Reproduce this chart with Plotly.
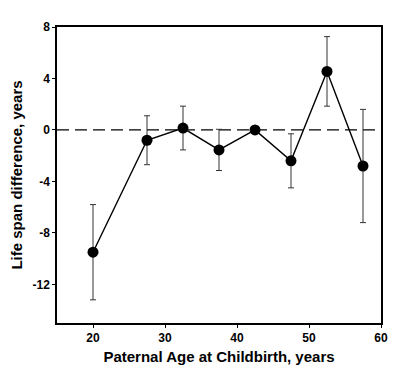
import plotly.graph_objects as go

paternal_age = [20, 27.5, 32.5, 37.5, 42.5, 47.5, 52.5, 57.5]
lifespan_diff = [-9.5, -0.8, 0.15, -1.55, 0.0, -2.4, 4.55, -2.8]
error = [3.7, 1.9, 1.7, 1.6, 0.0, 2.1, 2.7, 4.4]

x_ticks = [20, 30, 40, 50, 60]
y_ticks = [8, 4, 0, -4, -8, -12]

fig = go.Figure()
fig.add_shape(type="line", xref="x", yref="y", x0=15, x1=60, y0=0, y1=0,
              line=dict(color="black", width=1.2, dash="12px,6px"), layer="below")
fig.add_trace(go.Scatter(
    x=paternal_age, y=lifespan_diff, mode="lines+markers",
    line=dict(color="black", width=1.4),
    marker=dict(color="black", size=11),
    error_y=dict(type="data", array=error, visible=True, color="#333", thickness=1, width=3),
    showlegend=False,
))

font_family = "Liberation Sans, Arial, sans-serif"
fig.update_layout(
    width=411, height=385,
    margin=dict(l=49, r=38, t=19, b=70),
    plot_bgcolor="white", paper_bgcolor="white",
    font=dict(family=font_family, color="black"),
)
fig.update_xaxes(
    range=[15, 60], tickvals=x_ticks, ticktext=[str(v) for v in x_ticks],
    showgrid=False, zeroline=False, showline=True, linecolor="black", linewidth=1.5,
    mirror=True, ticks="outside", ticklen=3, tickcolor="black", automargin=False,
    tickfont=dict(size=12, family=font_family, weight="bold"),
    title=dict(text="<b>Paternal Age at Childbirth, years</b>", font=dict(size=15), standoff=7),
)
fig.update_yaxes(
    range=[-15, 8], tickvals=y_ticks, ticktext=[str(v) for v in y_ticks],
    showgrid=False, zeroline=False, showline=True, linecolor="black", linewidth=1.5,
    mirror=True, ticks="outside", ticklen=3, tickcolor="black", automargin=False,
    tickfont=dict(size=12, family=font_family, weight="bold"),
    title=dict(text="<b>Life span difference, years</b>", font=dict(size=15), standoff=10),
)

fig.write_html("out.html")
